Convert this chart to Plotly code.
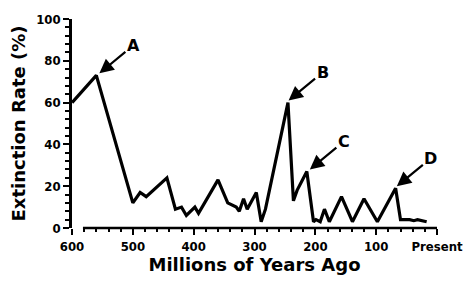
import plotly.graph_objects as go

# Data
years = [600, 560, 500, 488, 478, 444, 430, 420, 412, 398, 392, 360, 344, 330, 325,
         318, 312, 297, 289, 282, 245, 236, 230, 214, 203, 199, 192, 185, 177, 157,
         139, 120, 98, 68, 60, 45, 38, 32, 17]
rates = [60, 73, 12, 17, 15, 24, 9, 10, 6, 10, 7, 23, 12, 10, 8,
         14, 9, 17, 3, 9, 60, 13, 18, 27, 3, 4, 3, 9, 3, 15,
         3, 14, 3, 19, 4, 4, 3.5, 4, 3]

tick_vals = [600, 500, 400, 300, 200, 100, 0]
tick_text = ["600", "500", "400", "300", "200", "100", "Present"]

event_labels = ["A", "B", "C", "D"]
event_years = [555, 244, 209, 66]
event_rates = [74, 61, 28, 20]

FONT = "DejaVu Sans, Liberation Sans, Arial, sans-serif"
TICKFONT = "DejaVu Sans Condensed, DejaVu Sans, Arial, sans-serif"

fig = go.Figure()
fig.add_trace(go.Scatter(
    x=years, y=rates, mode="lines",
    line=dict(color="black", width=3.2),
    cliponaxis=False, showlegend=False,
))

for lab, ex, ey in zip(event_labels, event_years, event_rates):
    fig.add_annotation(
        x=ex, y=ey, xref="x", yref="y",
        text=lab, showarrow=True,
        ax=34, ay=-28, axref="pixel", ayref="pixel",
        arrowhead=2, arrowsize=1.3, arrowwidth=2.2, arrowcolor="black",
        standoff=0, startstandoff=0,
        font=dict(family=FONT, size=16, color="black", weight="bold"),
    )

# x-axis baseline (offset from the y axis as in the reference)
fig.add_shape(type="line", xref="paper", yref="paper",
              x0=0.03, x1=1.0, y0=0, y1=0,
              line=dict(color="black", width=2.5))

fig.update_layout(
    width=475, height=282,
    margin=dict(l=72, r=33, t=18, b=53),
    paper_bgcolor="white", plot_bgcolor="white",
    font=dict(family=FONT, color="black", weight="bold"),
    xaxis=dict(
        range=[600, 0], tickvals=tick_vals, ticktext=tick_text,
        showgrid=False, zeroline=False, showline=False,
        ticks="outside", ticklen=6, tickwidth=2, tickcolor="black",
        tickfont=dict(size=13, family=TICKFONT, weight="bold"),
        minor=dict(dtick=20, ticks="outside", ticklen=3, tickwidth=2, tickcolor="black", showgrid=False),
        title=dict(text="Millions of Years Ago", standoff=4,
                   font=dict(size=18, family=FONT, weight="bold")),
    ),
    yaxis=dict(
        range=[0, 100], tickvals=[0, 20, 40, 60, 80, 100],
        showgrid=False, zeroline=False, showline=True, linewidth=2.5, linecolor="black",
        ticks="outside", ticklen=6, tickwidth=2, tickcolor="black",
        tickfont=dict(size=13, family=TICKFONT, weight="bold"),
        minor=dict(dtick=4, ticks="outside", ticklen=4, tickwidth=1.5, tickcolor="black", showgrid=False),
        title=dict(text="Extinction Rate (%)", standoff=6,
                   font=dict(size=18, family=FONT, weight="bold")),
    ),
)

fig.write_html("out.html", config={"displayModeBar": False},
               post_script="document.body.style.margin='0';")
